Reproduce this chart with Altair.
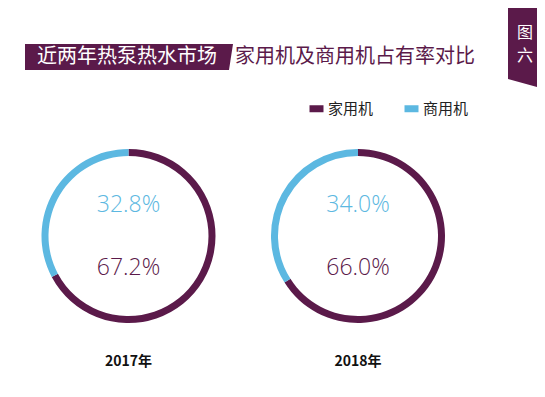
import altair as alt
import pandas as pd

years = ["2017年", "2018年"]
household = [67.2, 66.0]
commercial = [32.8, 34.0]
segments = ["家用机", "商用机"]
colors = ["#5b1a4a", "#5cb8e1"]
title_left = "近两年热泵热水市场"
title_right = "家用机及商用机占有率对比"
tab_text = "图\n六"

rows = []
for i, y in enumerate(years):
    rows.append({"year": y, "segment": segments[0], "value": household[i], "order": 0})
    rows.append({"year": y, "segment": segments[1], "value": commercial[i], "order": 1})
df = pd.DataFrame(rows)
df["label"] = df["value"].map(lambda v: f"{v:.1f}%")

CJK = "Noto Sans CJK SC"
W, H = 529, 381
centers = [120.5, 350]
cy = 228

color = alt.Color(
    "segment:N",
    scale=alt.Scale(domain=segments, range=colors),
    legend=alt.Legend(
        title=None, orient="none", legendX=301, legendY=93, direction="horizontal",
        symbolType="M -1 -0.5 L 1 -0.5 L 1 0.5 L -1 0.5 Z", symbolSize=196,
        symbolStrokeWidth=0, labelFontSize=15, labelFont=CJK, labelOffset=4,
        columnPadding=30, labelColor="#222222",
    ),
)

xscale = alt.X("year:N", scale=alt.Scale(type="point", padding=0, domain=years, range=centers), axis=None)

arcs = []
for i, y in enumerate(years):
    arcs.append(
        alt.Chart(df).transform_filter(alt.datum.year == y)
        .mark_arc(outerRadius=87, innerRadius=80, stroke=None)
        .encode(
            theta=alt.Theta("value:Q", stack=True),
            color=color,
            order=alt.Order("order:Q"),
            x=alt.value(centers[i]),
            y=alt.value(cy),
        )
    )

pct = alt.Chart(df).mark_text(font="Open Sans", fontWeight=300, fontSize=23).encode(
    x=xscale,
    y=alt.Y("segment:N", scale=alt.Scale(type="point", padding=0, domain=segments, range=[260, 197]), axis=None),
    text="label:N",
    color=alt.Color("segment:N", scale=alt.Scale(domain=segments, range=colors), legend=None),
)

year_df = pd.DataFrame({"year": years})
year_lbl = alt.Chart(year_df).mark_text(font=CJK, fontWeight="bold", fontSize=14, color="#111111").encode(
    x=xscale, y=alt.value(354), text="year:N"
)

band = alt.Chart(pd.DataFrame({"t": [title_left]})).mark_point(
    shape="M -1 -0.125 L 1 -0.125 L 0.9615 0.125 L -1 0.125 Z",
    size=43264, filled=True, opacity=1, color=colors[0], strokeWidth=0,
).encode(x=alt.value(121), y=alt.value(49))

t_left = alt.Chart(pd.DataFrame({"t": [title_left]})).mark_text(
    font=CJK, fontSize=20, color="white", align="left", baseline="middle"
).encode(x=alt.value(29), y=alt.value(49), text="t:N")

t_right = alt.Chart(pd.DataFrame({"t": [title_right]})).mark_text(
    font=CJK, fontSize=20, color=colors[0], align="left", baseline="middle"
).encode(x=alt.value(227), y=alt.value(49), text="t:N")

tab = alt.Chart(pd.DataFrame({"t": [tab_text]})).mark_point(
    shape="M -0.37 -0.78 L 0.6 -0.95 L 0.6 0.95 L -0.37 0.68 Z",
    size=10000, filled=True, opacity=1, color=colors[0], strokeWidth=0,
).encode(x=alt.value(518.5), y=alt.value(37))

tab_t = alt.Chart(pd.DataFrame({"t": [tab_text]})).mark_text(
    font=CJK, fontSize=16, color="white", align="center", baseline="middle",
    lineBreak="\n", lineHeight=23,
).encode(x=alt.value(517), y=alt.value(25), text="t:N")

chart = alt.layer(band, t_left, t_right, tab, tab_t, *arcs, pct, year_lbl).properties(
    width=W, height=H, autosize=alt.AutoSizeParams(type="none"), padding=0,
    background="white",
).configure_view(stroke=None)

chart.save("out.html", embed_options={"renderer": "svg", "actions": False})
